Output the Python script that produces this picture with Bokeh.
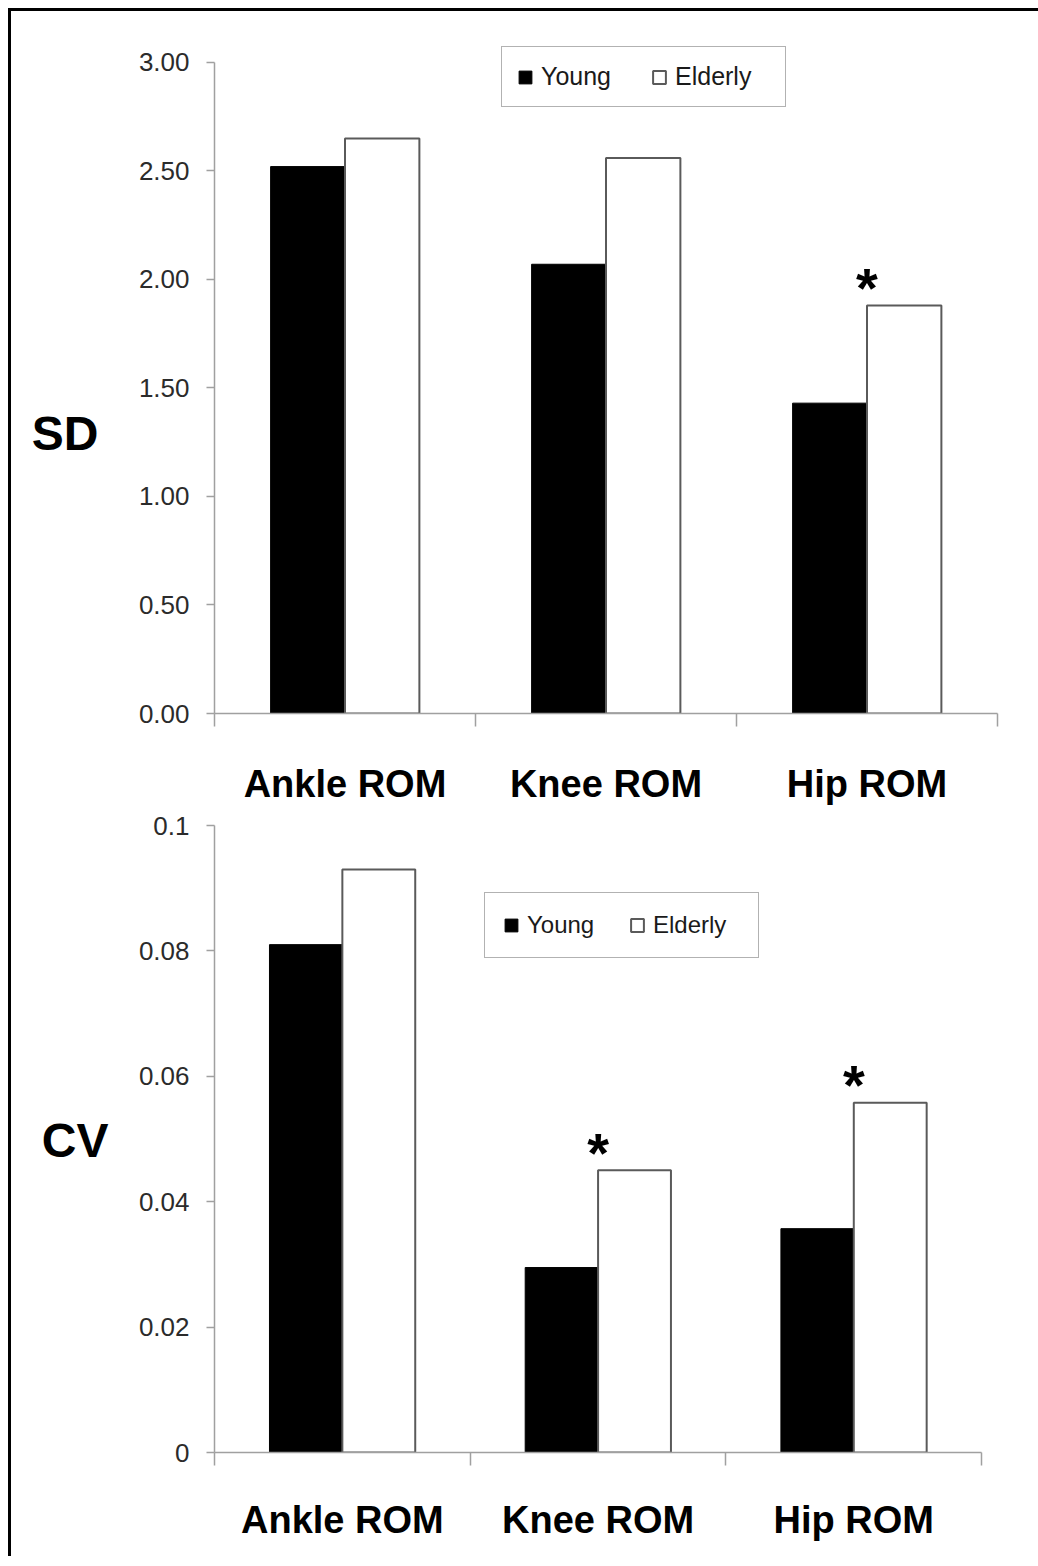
from bokeh.plotting import figure
from bokeh.models import (Range1d, FixedTicker, NumeralTickFormatter, Legend,
                          LegendItem, LinearAxis, ColumnDataSource)
from bokeh.layouts import column
from bokeh.transform import dodge
from bokeh.embed import file_html
from bokeh.resources import INLINE
from bokeh.core.properties import value

# ---------------- data ----------------
categories = ["Ankle ROM", "Knee ROM", "Hip ROM"]
group_labels = ["Young", "Elderly"]

sd_young = [2.52, 2.07, 1.43]
sd_elderly = [2.65, 2.56, 1.88]
sd_significant = [False, False, True]
sd_ticks = [0.0, 0.5, 1.0, 1.5, 2.0, 2.5, 3.0]

cv_young = [0.081, 0.0295, 0.0357]
cv_elderly = [0.093, 0.045, 0.0558]
cv_significant = [False, True, True]
cv_ticks = [0.0, 0.02, 0.04, 0.06, 0.08, 0.1]

# ---------------- style ----------------
FONT = "Liberation Sans"
BAR_W = 0.285
AXIS_GRAY = "#a0a0a0"
BAR_EDGE = "#5a5a5a"
FIG_W = 1027


def make_panel(young, elderly, sig, ticks, fmt, ylabel, height, borders,
               x_end, y_head, ylabel_at, ylabel_standoff, cat_standoff,
               legend_loc, legend_pad, legend_label_w, legend_font):
    n = len(categories)
    centers = [i + 0.5 for i in range(n)]
    p = figure(width=FIG_W, height=height,
               x_range=Range1d(0, x_end),
               y_range=Range1d(ticks[0], ticks[-1] + y_head),
               output_backend="svg", toolbar_location=None,
               min_border_left=borders[0], min_border_right=borders[1],
               min_border_top=borders[2], min_border_bottom=borders[3])
    p.outline_line_color = None
    p.xgrid.visible = False
    p.ygrid.visible = False
    p.background_fill_color = "white"
    p.border_fill_color = "white"

    src = ColumnDataSource(dict(cat=categories, center=centers,
                                young=young, elderly=elderly))
    r_y = p.vbar(x=dodge("center", -BAR_W / 2), top="young", bottom=0,
                 width=BAR_W, source=src, fill_color="black",
                 line_color="black", line_width=1)
    r_e = p.vbar(x=dodge("center", BAR_W / 2), top="elderly", bottom=0,
                 width=BAR_W, source=src, fill_color="white",
                 line_color=BAR_EDGE, line_width=2)

    sx = [centers[i] for i in range(n) if sig[i]]
    sy = [elderly[i] for i in range(n) if sig[i]]
    p.text(x=sx, y=sy, text=["*"] * len(sx), text_font=value(FONT),
           text_font_size="56px", text_font_style="bold",
           text_align="center", text_baseline="alphabetic",
           y_offset=-18, text_color="black")

    # y axis
    ya = p.yaxis[0]
    ya.ticker = FixedTicker(ticks=ticks)
    ya.formatter = NumeralTickFormatter(format=fmt)
    ya.bounds = (ticks[0], ticks[-1])
    ya.axis_line_color = AXIS_GRAY
    ya.axis_line_width = 1.5
    ya.major_tick_line_color = AXIS_GRAY
    ya.major_tick_line_width = 1.5
    ya.major_tick_out = 8
    ya.major_tick_in = 0
    ya.minor_tick_line_color = None
    ya.major_label_text_font = FONT
    ya.major_label_text_font_size = "26px"
    ya.major_label_text_color = "#2b2b2b"
    ya.major_label_standoff = 17

    # panel name (SD / CV) as an outer, line-less left axis
    la = LinearAxis(ticker=FixedTicker(ticks=[ylabel_at]),
                    major_label_overrides={ylabel_at: ylabel})
    la.axis_line_color = None
    la.major_tick_line_color = None
    la.minor_tick_line_color = None
    la.major_tick_out = 0
    la.major_tick_in = 0
    la.major_label_text_font = FONT
    la.major_label_text_font_size = "48px"
    la.major_label_text_font_style = "bold"
    la.major_label_text_color = "black"
    la.major_label_standoff = ylabel_standoff
    p.add_layout(la, "left")

    # x axis: labels at category centres, ticks at category boundaries
    xa = p.xaxis[0]
    xa.ticker = FixedTicker(ticks=centers, minor_ticks=list(range(n + 1)))
    xa.major_label_overrides = {c: lab for c, lab in zip(centers, categories)}
    xa.bounds = (0, n)
    xa.axis_line_color = AXIS_GRAY
    xa.axis_line_width = 1.5
    xa.major_tick_line_color = None
    xa.major_tick_out = 0
    xa.major_tick_in = 0
    xa.minor_tick_line_color = AXIS_GRAY
    xa.minor_tick_line_width = 1.5
    xa.minor_tick_out = 13
    xa.minor_tick_in = 0
    xa.major_label_text_font = FONT
    xa.major_label_text_font_size = "38px"
    xa.major_label_text_font_style = "bold"
    xa.major_label_text_color = "black"
    xa.major_label_standoff = cat_standoff

    legend = Legend(items=[LegendItem(label=group_labels[0], renderers=[r_y]),
                           LegendItem(label=group_labels[1], renderers=[r_e])],
                    location=legend_loc, orientation="horizontal",
                    margin=0, padding=legend_pad, spacing=15,
                    glyph_width=16, glyph_height=16, label_standoff=8,
                    label_width=legend_label_w,
                    label_text_font=FONT, label_text_font_size=legend_font,
                    label_text_color="#1a1a1a",
                    border_line_color="#666666", border_line_width=1.5,
                    background_fill_color="white", background_fill_alpha=1.0)
    p.add_layout(legend)
    return p


p1 = make_panel(sd_young, sd_elderly, sd_significant, sd_ticks, "0.00", "SD",
                height=798, borders=(203, 41, 29, 96),
                x_end=3.0, y_head=0.101, ylabel_at=1.29, ylabel_standoff=37,
                cat_standoff=36,
                legend_loc=(287, 606), legend_pad=15, legend_label_w=95,
                legend_font="25px")
p2 = make_panel(cv_young, cv_elderly, cv_significant, cv_ticks, "0.[00]", "CV",
                height=747, borders=(203, 41, 16, 104),
                x_end=3.062, y_head=0.0, ylabel_at=0.0498, ylabel_standoff=27,
                cat_standoff=33,
                legend_loc=(270, 494), legend_pad=18, legend_label_w=87,
                legend_font="24px")

layout = column(p1, p2, spacing=0,
                styles={"margin-left": "8px", "margin-top": "8px",
                        "border-top": "3px solid black",
                        "border-left": "3px solid black"})

open("out.html", "w").write(file_html(layout, INLINE))
